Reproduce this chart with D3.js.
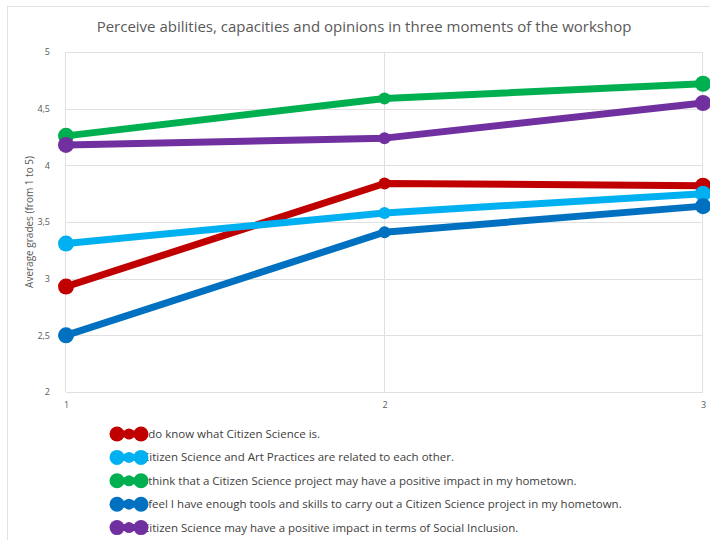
<!DOCTYPE html>
<html lang="en">
<head>
    <meta charset="UTF-8">
    <title>Perceive abilities, capacities and opinions</title>
    <script src="https://cdnjs.cloudflare.com/ajax/libs/d3/7.8.5/d3.min.js"></script>
    <style>
      body {
        margin: 0;
        background-color: white;
        font-family: "Open Sans", "Liberation Sans", sans-serif;
      }
    </style>
</head>
<body>
    <div id="chart"></div>
    <script>
        // data
        const moments = [1, 2, 3];
        const seriesNames = [
          "I do know what Citizen Science is.",
          "Citizen Science and Art Practices are related to each other.",
          "I think that a Citizen Science project may have a positive impact in my hometown.",
          "I feel I have enough tools and skills to carry out a Citizen Science project in my hometown.",
          "Citizen Science may have a positive impact in terms of Social Inclusion."
        ];
        const knowValues = [2.93, 3.84, 3.82];
        const artValues = [3.31, 3.58, 3.75];
        const impactValues = [4.26, 4.59, 4.72];
        const toolsValues = [2.50, 3.41, 3.64];
        const inclusionValues = [4.18, 4.24, 4.55];
        const yTicks = [2, 2.5, 3, 3.5, 4, 4.5, 5];
        const colors = ["#c00000", "#00b0f0", "#00b050", "#0070c0", "#7030a0"];

        const allValues = [knowValues, artValues, impactValues, toolsValues, inclusionValues];

        const width = 710;
        const height = 540;
        const margin = {top: 52, right: 7, bottom: 148, left: 66};

        const svg = d3.select('#chart')
            .append('svg')
            .attr('width', width)
            .attr('height', height);

        // outer chart frame
        svg.append('rect')
            .attr('x', 7.5).attr('y', 6.5)
            .attr('width', width).attr('height', height)
            .attr('fill', 'none')
            .attr('stroke', '#e2e2e2');

        const x = d3.scaleLinear()
            .domain([1, 3])
            .range([margin.left, width - margin.right]);

        const y = d3.scaleLinear()
            .domain([2, 5])
            .range([height - margin.bottom, margin.top]);

        // title
        svg.append('text')
            .attr('x', 364)
            .attr('y', 32)
            .attr('text-anchor', 'middle')
            .attr('font-size', 15)
            .attr('fill', '#595959')
            .text('Perceive abilities, capacities and opinions in three moments of the workshop');

        // horizontal grid
        svg.append('g')
            .selectAll('line')
            .data(yTicks)
            .join('line')
            .attr('x1', x(1)).attr('x2', x(3))
            .attr('y1', d => Math.round(y(d)) + 0.5)
            .attr('y2', d => Math.round(y(d)) + 0.5)
            .attr('stroke', '#e0e0e0');

        // vertical grid
        svg.append('g')
            .selectAll('line')
            .data(moments)
            .join('line')
            .attr('x1', d => Math.round(x(d)) - 0.5)
            .attr('x2', d => Math.round(x(d)) - 0.5)
            .attr('y1', y(5)).attr('y2', y(2))
            .attr('stroke', '#e0e0e0');

        // y axis labels
        const yAxis = d3.axisLeft(y)
            .tickValues(yTicks)
            .tickSize(0)
            .tickPadding(16)
            .tickFormat(d => String(d).replace('.', ','));

        svg.append('g')
            .attr('transform', `translate(${x(1)},0)`)
            .call(yAxis)
            .call(g => g.select('.domain').remove())
            .call(g => g.selectAll('text')
                .attr('font-size', 9)
                .attr('font-family', '"Open Sans", sans-serif')
                .attr('fill', '#595959'));

        // x axis labels
        const xAxis = d3.axisBottom(x)
            .tickValues(moments)
            .tickSize(0)
            .tickPadding(10)
            .tickFormat(d3.format('d'));

        svg.append('g')
            .attr('transform', `translate(0,${y(2)})`)
            .call(xAxis)
            .call(g => g.select('.domain').remove())
            .call(g => g.selectAll('text')
                .attr('font-size', 9)
                .attr('font-family', '"Open Sans", sans-serif')
                .attr('fill', '#595959'));

        // y axis title
        svg.append('text')
            .attr('transform', `translate(33,${(y(2) + y(5)) / 2}) rotate(-90)`)
            .attr('text-anchor', 'middle')
            .attr('font-size', 10)
            .attr('fill', '#595959')
            .text('Average grades (from 1 to 5)');

        const line = d3.line()
            .x((d, i) => x(moments[i]))
            .y(d => y(d));

        const series = svg.append('g')
            .selectAll('g')
            .data(allValues)
            .join('g');

        series.append('path')
            .attr('d', d => line(d))
            .attr('fill', 'none')
            .attr('stroke', (d, i) => colors[i])
            .attr('stroke-width', 7)
            .attr('stroke-linejoin', 'round');

        series.each(function(vals, si) {
            d3.select(this).selectAll('circle')
                .data(vals)
                .join('circle')
                .attr('cx', (d, i) => x(moments[i]))
                .attr('cy', d => y(d))
                .attr('r', (d, i) => i === 1 ? 6 : 8)
                .attr('fill', colors[si]);
        });

        // legend
        const legend = svg.append('g')
            .selectAll('g')
            .data(seriesNames)
            .join('g')
            .attr('transform', (d, i) => `translate(0,${434 + i * 23.4})`);

        legend.append('text')
            .attr('x', 142)
            .attr('y', 4)
            .attr('font-size', 11.5)
            .attr('fill', '#404040')
            .text(d => d);

        legend.append('line')
            .attr('x1', 117).attr('x2', 141)
            .attr('stroke', (d, i) => colors[i])
            .attr('stroke-width', 7);

        legend.selectAll('circle')
            .data((d, i) => [[117, 7.5, i], [129, 5.5, i], [141, 7.5, i]])
            .join('circle')
            .attr('cx', d => d[0])
            .attr('r', d => d[1])
            .attr('fill', d => colors[d[2]]);
    </script>
</body>
</html>
